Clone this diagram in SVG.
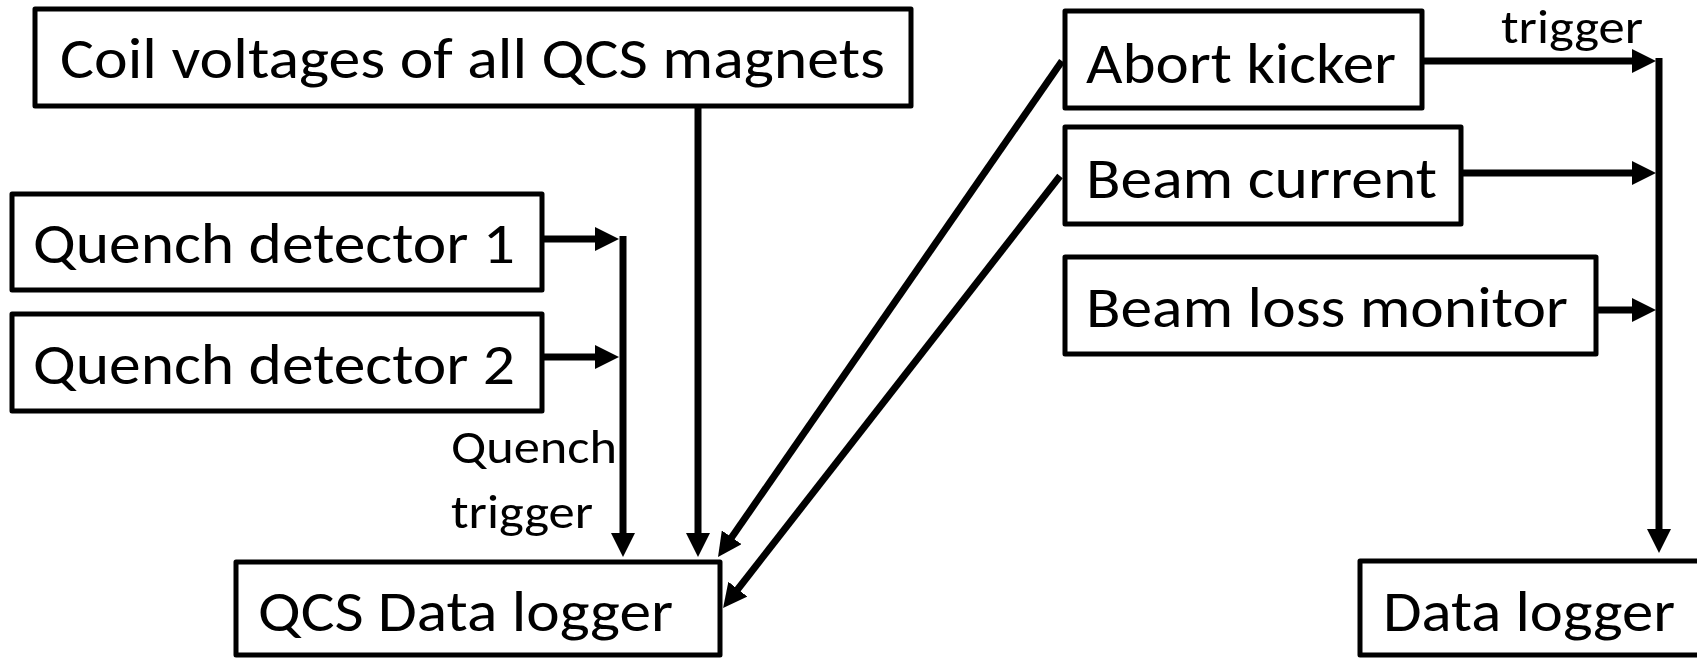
<svg xmlns="http://www.w3.org/2000/svg" width="1697" height="658" viewBox="0 0 1697 658">
  <style>
    .box { fill: #fff; stroke: #000; stroke-width: 5; stroke-linejoin: round; }
    .lbl { font-family: Carlito, Calibri, Lato, "Open Sans", sans-serif; font-size: 58px; fill: #000; }
    .sm { font-family: Carlito, Calibri, Lato, "Open Sans", sans-serif; font-size: 47px; fill: #000; }
    .wire { fill: none; stroke: #000; stroke-width: 7; }
  </style>
  <defs>
    <marker id="arrow" markerUnits="userSpaceOnUse" markerWidth="24" markerHeight="24" refX="10" refY="12" orient="auto">
      <path d="M0,0 L24,12 L0,24 z" fill="#000"/>
    </marker>
  </defs>
  <rect width="1697" height="658" fill="#fff"/>

  <g id="coil-voltages">
    <rect class="box" x="35" y="9" width="876" height="97"/>
    <text class="lbl" x="60" y="78" textLength="825" lengthAdjust="spacingAndGlyphs">Coil voltages of all QCS magnets</text>
  </g>

  <g id="quench-detector-1">
    <rect class="box" x="12" y="194" width="530" height="96"/>
    <text class="lbl" x="33" y="263" textLength="482" lengthAdjust="spacingAndGlyphs">Quench detector 1</text>
  </g>

  <g id="quench-detector-2">
    <rect class="box" x="12" y="314" width="530" height="97"/>
    <text class="lbl" x="33" y="384" textLength="482" lengthAdjust="spacingAndGlyphs">Quench detector 2</text>
  </g>

  <g id="qcs-data-logger">
    <rect class="box" x="236" y="562" width="484" height="93"/>
    <text class="lbl" x="258" y="631" textLength="415" lengthAdjust="spacingAndGlyphs">QCS Data logger</text>
  </g>

  <g id="abort-kicker">
    <rect class="box" x="1065" y="11" width="357" height="97"/>
    <text class="lbl" x="1086" y="83" textLength="310" lengthAdjust="spacingAndGlyphs">Abort kicker</text>
  </g>

  <g id="beam-current">
    <rect class="box" x="1065" y="127" width="396" height="97"/>
    <text class="lbl" x="1086" y="198" textLength="351" lengthAdjust="spacingAndGlyphs">Beam current</text>
  </g>

  <g id="beam-loss-monitor">
    <rect class="box" x="1065" y="257" width="531" height="97"/>
    <text class="lbl" x="1086" y="327" textLength="482" lengthAdjust="spacingAndGlyphs">Beam loss monitor</text>
  </g>

  <g id="data-logger">
    <rect class="box" x="1360" y="561" width="360" height="94"/>
    <text class="lbl" x="1383" y="631" textLength="292" lengthAdjust="spacingAndGlyphs">Data logger</text>
  </g>

  <g id="connectors">
    <!-- coil voltages into the QCS logger -->
    <line class="wire" x1="698" y1="106" x2="698" y2="543" marker-end="url(#arrow)"/>
    <!-- quench detectors merge into one trigger bus -->
    <line class="wire" x1="542" y1="239" x2="605" y2="239" marker-end="url(#arrow)"/>
    <line class="wire" x1="542" y1="357" x2="605" y2="357" marker-end="url(#arrow)"/>
    <line class="wire" x1="623" y1="236" x2="623" y2="543" marker-end="url(#arrow)"/>
    <!-- beam signals crossing to the QCS logger -->
    <line class="wire" x1="1062" y1="61" x2="726" y2="545.5" marker-end="url(#arrow)"/>
    <line class="wire" x1="1060" y1="176" x2="731.7" y2="597" marker-end="url(#arrow)"/>
    <!-- beam signals merge into the data logger bus -->
    <line class="wire" x1="1422" y1="61" x2="1642" y2="61" marker-end="url(#arrow)"/>
    <line class="wire" x1="1461" y1="173" x2="1642" y2="173" marker-end="url(#arrow)"/>
    <line class="wire" x1="1596" y1="310" x2="1642" y2="310" marker-end="url(#arrow)"/>
    <line class="wire" x1="1659" y1="58" x2="1659" y2="539" marker-end="url(#arrow)"/>

    <text class="sm" x="451" y="463" textLength="166" lengthAdjust="spacingAndGlyphs">Quench</text>
    <text class="sm" x="451" y="528" textLength="142" lengthAdjust="spacingAndGlyphs">trigger</text>
    <text class="sm" x="1501" y="43" textLength="142" lengthAdjust="spacingAndGlyphs">trigger</text>
  </g>
</svg>
